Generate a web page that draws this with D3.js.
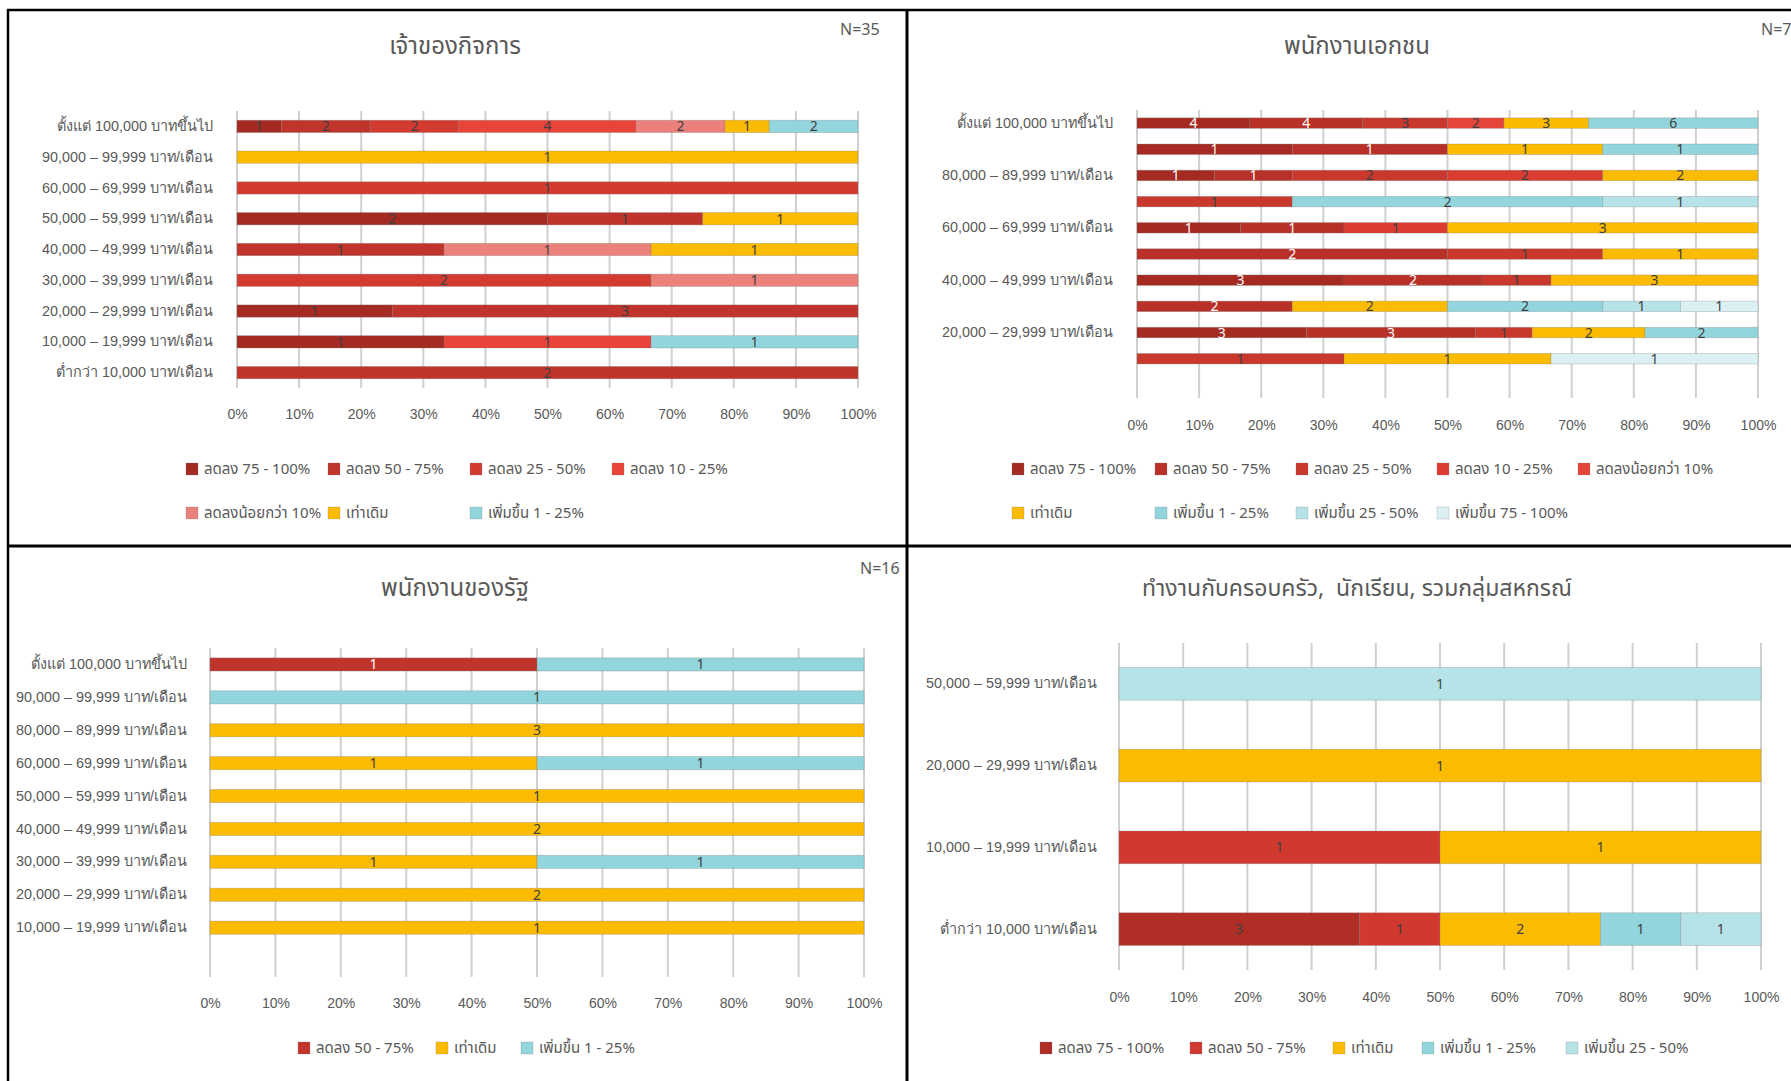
<!DOCTYPE html>
<html><head><meta charset="utf-8">
<script src="https://cdn.jsdelivr.net/npm/d3@7"></script>
<style>
body{margin:0;background:#fff;}
svg{display:block;font-family:Tahoma,"Noto Sans Thai","Noto Sans","DejaVu Sans",sans-serif;}
.ttl{white-space:pre;}
</style></head><body><svg id="c" width="1791" height="1081"></svg>
<script>
// ---------------- DATA ----------------
// Panel 1: เจ้าของกิจการ
const p1Title = "เจ้าของกิจการ";
const p1N = "N=35";
const p1Categories = ["ตั้งแต่ 100,000 บาทขึ้นไป","90,000 – 99,999 บาท/เดือน","60,000 – 69,999 บาท/เดือน","50,000 – 59,999 บาท/เดือน","40,000 – 49,999 บาท/เดือน","30,000 – 39,999 บาท/เดือน","20,000 – 29,999 บาท/เดือน","10,000 – 19,999 บาท/เดือน","ต่ำกว่า 10,000 บาท/เดือน"];
const p1Series = ["ลดลง 75 - 100%","ลดลง 50 - 75%","ลดลง 25 - 50%","ลดลง 10 - 25%","ลดลงน้อยกว่า 10%","เท่าเดิม","เพิ่มขึ้น 1 - 25%"];
const p1Values = [
  [1,0,0,2,0,0,1,1,0],
  [2,0,0,1,1,0,3,0,2],
  [2,0,1,0,0,2,0,0,0],
  [4,0,0,0,0,0,0,1,0],
  [2,0,0,0,1,1,0,0,0],
  [1,1,0,1,1,0,0,0,0],
  [2,0,0,0,0,0,0,1,0]
];
const p1Colors = ["#A52A22","#BF352B","#D33B30","#E8443A","#EC807A","#FABB00","#92D5DC"];

// Panel 2: พนักงานเอกชน
const p2Title = "พนักงานเอกชน";
const p2N = "N=79";
const p2Categories = ["ตั้งแต่ 100,000 บาทขึ้นไป","90,000 – 99,999 บาท/เดือน","80,000 – 89,999 บาท/เดือน","70,000 – 79,999 บาท/เดือน","60,000 – 69,999 บาท/เดือน","50,000 – 59,999 บาท/เดือน","40,000 – 49,999 บาท/เดือน","30,000 – 39,999 บาท/เดือน","20,000 – 29,999 บาท/เดือน","10,000 – 19,999 บาท/เดือน",""];
const p2Series = ["ลดลง 75 - 100%","ลดลง 50 - 75%","ลดลง 25 - 50%","ลดลง 10 - 25%","ลดลงน้อยกว่า 10%","เท่าเดิม","เพิ่มขึ้น 1 - 25%","เพิ่มขึ้น 25 - 50%","เพิ่มขึ้น 75 - 100%"];
const p2Values = [
  [4,1,1,0,1,0,3,0,3,0,0],
  [4,1,1,0,1,2,2,2,3,0,0],
  [3,0,2,1,0,1,1,0,1,1,0],
  [0,0,2,0,1,0,0,0,0,0,0],
  [2,0,0,0,0,0,0,0,0,0,0],
  [3,1,2,0,3,1,3,2,2,1,0],
  [6,1,0,2,0,0,0,2,2,0,0],
  [0,0,0,1,0,0,0,1,0,0,0],
  [0,0,0,0,0,0,0,1,0,1,0]
];
const p2Colors = ["#A52A22","#B83128","#C9382D","#DA3C32","#E8453A","#FABB00","#92D5DC","#B6E3E8","#DAF0F3"];

// Panel 3: พนักงานของรัฐ
const p3Title = "พนักงานของรัฐ";
const p3N = "N=16";
const p3Categories = ["ตั้งแต่ 100,000 บาทขึ้นไป","90,000 – 99,999 บาท/เดือน","80,000 – 89,999 บาท/เดือน","60,000 – 69,999 บาท/เดือน","50,000 – 59,999 บาท/เดือน","40,000 – 49,999 บาท/เดือน","30,000 – 39,999 บาท/เดือน","20,000 – 29,999 บาท/เดือน","10,000 – 19,999 บาท/เดือน",""];
const p3Series = ["ลดลง 50 - 75%","เท่าเดิม","เพิ่มขึ้น 1 - 25%"];
const p3Values = [
  [1,0,0,0,0,0,0,0,0,0],
  [0,0,3,1,1,2,1,2,1,0],
  [1,1,0,1,0,0,1,0,0,0]
];
const p3Colors = ["#C0352B","#FABB00","#92D5DC"];

// Panel 4: ทำงานกับครอบครัว, นักเรียน, รวมกลุ่มสหกรณ์
const p4Title = "ทำงานกับครอบครัว,  นักเรียน, รวมกลุ่มสหกรณ์";
const p4Categories = ["50,000 – 59,999 บาท/เดือน","20,000 – 29,999 บาท/เดือน","10,000 – 19,999 บาท/เดือน","ต่ำกว่า 10,000 บาท/เดือน"];
const p4Series = ["ลดลง 75 - 100%","ลดลง 50 - 75%","เท่าเดิม","เพิ่มขึ้น 1 - 25%","เพิ่มขึ้น 25 - 50%"];
const p4Values = [
  [0,0,0,3],
  [0,0,1,1],
  [0,1,1,2],
  [0,0,0,1],
  [1,0,0,1]
];
const p4Colors = ["#B02E26","#D0392F","#FABB00","#92D5DC","#B6E3E8"];

const pctTicks = [0,0.1,0.2,0.3,0.4,0.5,0.6,0.7,0.8,0.9,1];

// ---------------- DRAW ----------------
const svg = d3.select("#c");
svg.append("rect").attr("width",1791).attr("height",1081).attr("fill","#fff");
const TXT = "#595959";

function drawPanel(cfg){
  const g = svg.append("g");
  const n = cfg.cats.length;
  const x = d3.scaleLinear().domain([0,1]).range([cfg.x0,cfg.x1]);
  const y = d3.scaleBand().domain(d3.range(n)).range([cfg.y0,cfg.y1]).paddingInner(0.6).paddingOuter(0.3);

  // gridlines
  g.append("g").selectAll("line").data(pctTicks).join("line")
    .attr("x1",d=>x(d)).attr("x2",d=>x(d)).attr("y1",cfg.y0).attr("y2",cfg.y1)
    .attr("stroke","#D0D0D0").attr("stroke-width",2);

  // stacked data
  const rows = cfg.cats.map((c,i)=>{const o={}; cfg.values.forEach((s,k)=>o[k]=s[i]); return o;});
  const stack = d3.stack().keys(d3.range(cfg.series.length)).value((d,k)=>d[k]).offset(d3.stackOffsetExpand);
  const layers = stack(rows);
  const segs = [];
  layers.forEach((L,k)=>L.forEach((p,i)=>{ if(rows[i][k]>0) segs.push({k,i,a:p[0],b:p[1],v:rows[i][k]}); }));

  g.append("g").selectAll("rect").data(segs).join("rect")
    .attr("x",d=>x(d.a)).attr("width",d=>x(d.b)-x(d.a))
    .attr("y",d=>y(d.i)).attr("height",y.bandwidth())
    .attr("fill",d=>cfg.colors[d.k])
    .attr("stroke","rgba(120,120,120,0.35)").attr("stroke-width",0.8);

  g.append("g").selectAll("text").data(segs).join("text")
    .attr("x",d=>(x(d.a)+x(d.b))/2).attr("y",d=>y(d.i)+y.bandwidth()/2)
    .attr("dy","0.36em").attr("text-anchor","middle")
    .attr("font-size",14)
    .attr("fill",d=>(cfg.white||[]).includes(d.k)?"#ffffff":"#404040")
    .text(d=>d.v);

  // x axis labels
  const xa = g.append("g").attr("transform",`translate(0,${cfg.axisY})`)
    .call(d3.axisBottom(x).tickValues(pctTicks).tickFormat(d3.format(".0%")).tickSize(0).tickPadding(0));
  xa.select(".domain").remove();
  xa.selectAll("text").attr("y",0).attr("dy","0.35em").attr("font-size",14).attr("fill",TXT).attr("font-family",null);

  // y axis labels
  const ya = g.append("g").attr("transform",`translate(${cfg.labelRight},0)`)
    .call(d3.axisLeft(y).tickSize(0).tickPadding(0).tickFormat(i=> (cfg.every && i%cfg.every) ? "" : cfg.cats[i]));
  ya.select(".domain").remove();
  ya.selectAll("text").attr("font-size",14.4).attr("fill",TXT).attr("font-family",null);

  // title & N
  g.append("text").attr("class","ttl").attr("x",cfg.titleX).attr("y",cfg.titleY).attr("text-anchor","middle")
    .attr("dy","0.35em").attr("font-size",cfg.titleSize||24).attr("fill",TXT).text(cfg.title);
  if(cfg.n) g.append("text").attr("x",cfg.nX).attr("y",cfg.nY).attr("dy","0.35em")
    .attr("font-size",16).attr("fill",TXT).text(cfg.n);

  // legend
  const lg = g.append("g").selectAll("g").data(cfg.legend).join("g")
    .attr("transform",d=>`translate(${d[1]},${d[2]})`);
  lg.append("rect").attr("x",0).attr("y",-6).attr("width",12).attr("height",12)
    .attr("fill",d=>cfg.colors[d[0]]).attr("stroke","rgba(120,120,120,0.4)").attr("stroke-width",0.6);
  lg.append("text").attr("x",18).attr("y",0).attr("dy","0.35em").attr("font-size",15).attr("fill",TXT)
    .text(d=>cfg.series[d[0]]);
}

drawPanel({title:p1Title,n:p1N,cats:p1Categories,series:p1Series,values:p1Values,colors:p1Colors,
  x0:237,x1:858,y0:111,y1:388,axisY:414,labelRight:213,titleX:455,titleY:46,nX:840,nY:29,
  legend:[[0,186,469],[1,328,469],[2,470,469],[3,612,469],[4,186,513],[5,328,513],[6,470,513]]});

drawPanel({title:p2Title,n:p2N,cats:p2Categories,series:p2Series,values:p2Values,colors:p2Colors,white:[0,1],every:2,
  x0:1137,x1:1758,y0:110,y1:398,axisY:425,labelRight:1113,titleX:1357,titleY:46,nX:1761,nY:29,
  legend:[[0,1012,469],[1,1155,469],[2,1296,469],[3,1437,469],[4,1578,469],[5,1012,513],[6,1155,513],[7,1296,513],[8,1437,513]]});

drawPanel({title:p3Title,n:p3N,cats:p3Categories,series:p3Series,values:p3Values,colors:p3Colors,white:[0],
  x0:210,x1:864,y0:648,y1:977,axisY:1003,labelRight:187,titleX:455,titleY:588,nX:860,nY:568,
  legend:[[0,298,1048],[1,436,1048],[2,521,1048]]});

drawPanel({title:p4Title,cats:p4Categories,series:p4Series,values:p4Values,colors:p4Colors,titleSize:23,
  x0:1119,x1:1761,y0:643,y1:970,axisY:997,labelRight:1097,titleX:1357,titleY:588,
  legend:[[0,1040,1048],[1,1190,1048],[2,1333,1048],[3,1422,1048],[4,1566,1048]]});

// panel borders
const B = svg.append("g").attr("stroke","#000");
B.append("line").attr("x1",7).attr("x2",1791).attr("y1",10).attr("y2",10).attr("stroke-width",2.5);
B.append("line").attr("x1",8).attr("x2",8).attr("y1",9).attr("y2",1081).attr("stroke-width",2.5);
B.append("line").attr("x1",907).attr("x2",907).attr("y1",9).attr("y2",1081).attr("stroke-width",3);
B.append("line").attr("x1",7).attr("x2",1791).attr("y1",546).attr("y2",546).attr("stroke-width",3);
</script></body></html>
